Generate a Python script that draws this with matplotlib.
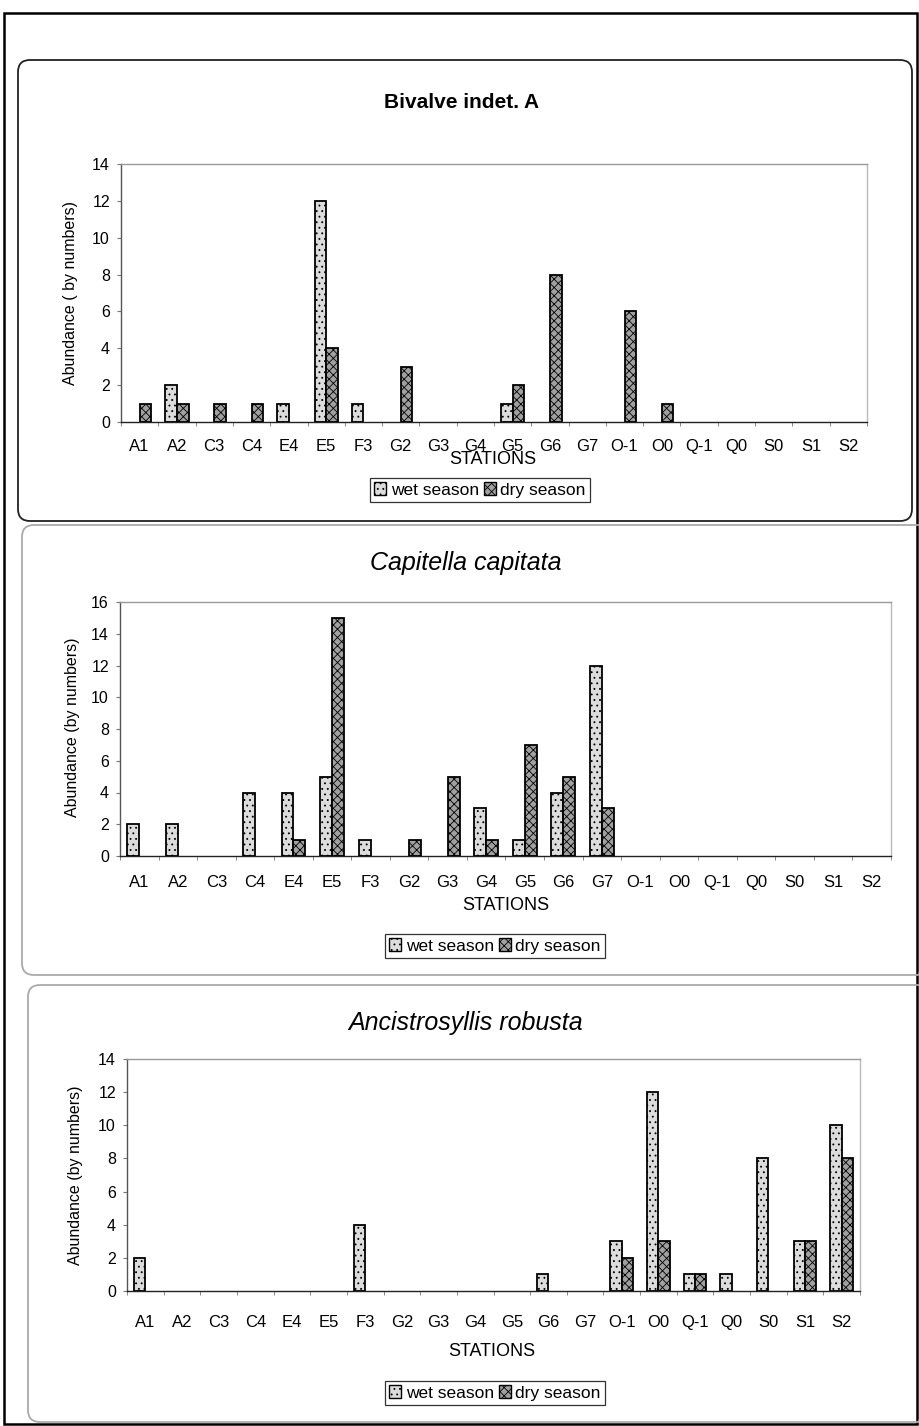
# -*- coding:utf-8 -*-
import matplotlib
matplotlib.use("Agg")
import matplotlib.pyplot as plt
import numpy as np
from matplotlib.patches import FancyBboxPatch, Rectangle, Patch

plt.rcParams['font.family'] = ['Liberation Sans', 'DejaVu Sans']
plt.rcParams['hatch.linewidth'] = 0.6

W, H = 920, 1426

# 采样站位
STATIONS = ["A1", "A2", "C3", "C4", "E4", "E5", "F3", "G2", "G3", "G4",
            "G5", "G6", "G7", "O-1", "O0", "Q-1", "Q0", "S0", "S1", "S2"]

# Bivalve indet. A
BIVALVE_WET = [0, 2, 0, 0, 1, 12, 1, 0, 0, 0, 1, 0, 0, 0, 0, 0, 0, 0, 0, 0]
BIVALVE_DRY = [1, 1, 1, 1, 0, 4, 0, 3, 0, 0, 2, 8, 0, 6, 1, 0, 0, 0, 0, 0]

# Capitella capitata
CAPITELLA_WET = [2, 2, 0, 4, 4, 5, 1, 0, 0, 3, 1, 4, 12, 0, 0, 0, 0, 0, 0, 0]
CAPITELLA_DRY = [0, 0, 0, 0, 1, 15, 0, 1, 5, 1, 7, 5, 3, 0, 0, 0, 0, 0, 0, 0]

# Ancistrosyllis robusta
ANCISTRO_WET = [2, 0, 0, 0, 0, 0, 4, 0, 0, 0, 0, 1, 0, 3, 12, 1, 1, 8, 3, 10]
ANCISTRO_DRY = [0, 0, 0, 0, 0, 0, 0, 0, 0, 0, 0, 0, 0, 2, 3, 1, 0, 0, 3, 8]

WET_STYLE = dict(facecolor="#dcdcdc", edgecolor="black", hatch="...")
DRY_STYLE = dict(facecolor="#a0a0a0", edgecolor="black", hatch="xxxx")


def px_rect(x0, y0, x1, y1):
    """像素坐标 -> figure 坐标"""
    return [x0 / W, 1 - y1 / H, (x1 - x0) / W, (y1 - y0) / H]


def fig_text(fig, x, y, s, **kw):
    fig.text(x / W, 1 - y / H, s, ha="center", va="center", **kw)


def bars(ax, values, offset, width, style):
    # 数量为 0 的站位不画柱子
    vals = np.asarray(values, dtype=float)
    idx = np.nonzero(vals)[0]
    ax.bar(idx + offset, vals[idx], width, linewidth=1.3, zorder=3, **style)


def draw_panel(fig, box, title, title_style, wet, dry, ymax, ylabel,
               title_xy, ylabel_xy, xlabel_xy, legend_xy, tick_pad):
    x = np.arange(len(STATIONS))
    ax = fig.add_axes(px_rect(*box))
    bw = 0.31
    bars(ax, wet, -bw / 2, bw, WET_STYLE)
    bars(ax, dry, bw / 2, bw, DRY_STYLE)

    ax.set_xlim(-0.5, len(STATIONS) - 0.5)
    ax.set_ylim(0, ymax)
    ax.set_yticks(np.arange(0, ymax + 1, 2))
    ax.set_xticks(x)
    ax.set_xticklabels(STATIONS)
    ax.set_xticks(np.arange(-0.5, len(STATIONS), 1), minor=True)
    ax.tick_params(axis="x", which="major", length=0, labelsize=12, pad=tick_pad)
    ax.tick_params(axis="x", which="minor", length=3, color="#777777", direction="out")
    ax.tick_params(axis="y", length=3, color="#777777", labelsize=11.5, pad=5)

    ax.spines["left"].set_color("#555555")
    ax.spines["bottom"].set_color("#222222")
    ax.spines["top"].set_color("#999999")
    ax.spines["right"].set_color("#bbbbbb")
    for sp in ax.spines.values():
        sp.set_linewidth(1.0)

    fig_text(fig, title_xy[0], title_xy[1], title, **title_style)
    fig_text(fig, ylabel_xy[0], ylabel_xy[1], ylabel, fontsize=11.5, rotation=90)
    fig_text(fig, xlabel_xy[0], xlabel_xy[1], "STATIONS", fontsize=13)

    handles = [Patch(**WET_STYLE), Patch(**DRY_STYLE)]
    leg = fig.legend(handles, ["wet season", "dry season"], loc="center",
                     bbox_to_anchor=(legend_xy[0] / W, 1 - legend_xy[1] / H),
                     ncol=2, fontsize=12.5, handlelength=0.7, handleheight=0.7,
                     handletextpad=0.25, columnspacing=0.3, borderpad=0.25,
                     fancybox=False, framealpha=1)
    leg.get_frame().set_edgecolor("#333333")
    leg.get_frame().set_linewidth(0.9)
    return ax


fig = plt.figure(figsize=(W / 100, H / 100), dpi=100)

# 外框和圆角面板
bg = fig.add_axes([0, 0, 1, 1], zorder=-1)
bg.set_xlim(0, W)
bg.set_ylim(H, 0)
bg.axis("off")
bg.add_patch(Rectangle((4, 13), 913, 1411, fill=False, edgecolor="black", linewidth=1.8))
for (x0, y0, x1, y1, c) in [(18, 60, 912, 521, "#222222"),
                            (22, 525, 930, 975, "#aaaaaa"),
                            (28, 985, 930, 1422, "#aaaaaa")]:
    bg.add_patch(FancyBboxPatch((x0 + 12, y0 + 12), x1 - x0 - 24, y1 - y0 - 24,
                                boxstyle="round,pad=12", fill=False,
                                edgecolor=c, linewidth=1.3))

draw_panel(fig, (121, 164, 867, 422), "Bivalve indet. A",
           {"fontweight": "bold", "fontsize": 15},
           BIVALVE_WET, BIVALVE_DRY, 14, "Abundance ( by numbers)",
           (462, 102), (70, 293), (493, 459), (480, 490), 12)

draw_panel(fig, (120, 602, 891, 856), "Capitella capitata",
           {"fontstyle": "italic", "fontsize": 18},
           CAPITELLA_WET, CAPITELLA_DRY, 16, "Abundance (by numbers)",
           (466, 563), (73, 727), (506, 905), (495, 946), 14)

draw_panel(fig, (127, 1059, 860, 1291), "Ancistrosyllis robusta",
           {"fontstyle": "italic", "fontsize": 18},
           ANCISTRO_WET, ANCISTRO_DRY, 14, "Abundance (by numbers)",
           (466, 1023), (76, 1175), (492, 1351), (495, 1393), 17)

fig.savefig("out.png", dpi=100)
